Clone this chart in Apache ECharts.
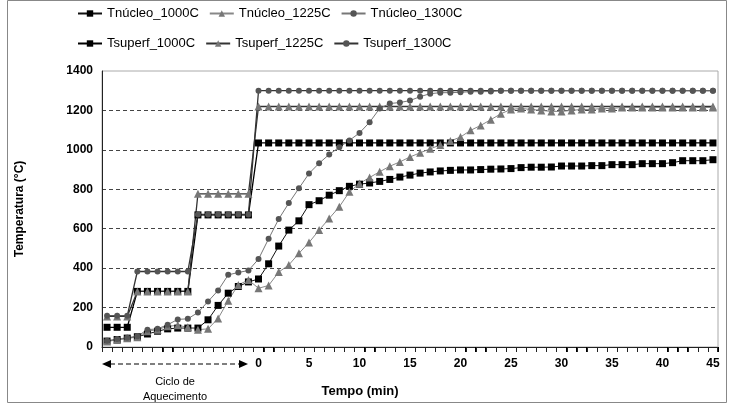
<!DOCTYPE html>
<html>
<head>
<meta charset="utf-8">
<script src="https://cdn.jsdelivr.net/npm/echarts@6/dist/echarts.min.js"></script>
<style>html,body{margin:0;padding:0;background:#fff;}#c{width:730px;height:410px;}</style>
</head>
<body>
<div id="c"></div>
<script>
// Categories: 15 heating-cycle steps followed by minutes 0..45
var heatSteps = ['H1','H2','H3','H4','H5','H6','H7','H8','H9','H10','H11','H12','H13','H14','H15'];
var minutes = ['0','1','2','3','4','5','6','7','8','9','10','11','12','13','14','15','16','17','18','19','20','21','22','23','24','25','26','27','28','29','30','31','32','33','34','35','36','37','38','39','40','41','42','43','44','45'];
var tickLabels = ['0','5','10','15','20','25','30','35','40','45'];
var yTicks = [0,200,400,600,800,1000,1200,1400];

// Heating cycle values
var coreHeat1000 = [30,38,45,52,66,80,92,96,96,96,138,211,273,307,330];
var coreHeat1225 = [28,36,44,50,80,88,105,110,100,88,92,145,235,315,340];
var coreHeat1300 = [32,40,47,55,88,92,113,140,143,175,231,287,366,378,388];
var surfHeat1000 = [100,100,100,282,282,282,282,282,282,670,670,670,670,670,670];
var surfHeat1225 = [155,155,155,282,282,282,282,282,282,777,777,777,777,777,777];
var surfHeat1300 = [158,158,158,383,383,383,383,383,383,672,672,672,672,672,672];

// Time 0..45 min values
var core1000 = [345,422,512,593,640,722,742,770,793,815,826,832,840,850,862,872,882,888,893,896,898,898,900,902,903,905,910,912,912,913,918,918,918,920,920,925,925,925,930,930,930,935,945,945,945,950];
var core1225 = [298,312,380,416,475,530,593,652,711,787,829,860,889,917,939,964,985,1005,1025,1045,1065,1099,1124,1153,1183,1205,1210,1205,1200,1195,1195,1200,1205,1205,1210,1210,1215,1215,1215,1215,1215,1215,1215,1215,1215,1215];
var core1300 = [446,549,649,730,805,880,932,977,1013,1048,1086,1140,1210,1235,1240,1250,1270,1285,1290,1290,1292,1295,1295,1296,1300,1300,1300,1300,1300,1300,1300,1300,1300,1300,1300,1300,1300,1300,1300,1300,1300,1300,1300,1300,1300,1300];
var surf1000 = [1035,1035,1035,1035,1035,1035,1035,1035,1035,1035,1035,1035,1035,1035,1035,1035,1035,1035,1035,1035,1035,1035,1035,1035,1035,1035,1035,1035,1035,1035,1035,1035,1035,1035,1035,1035,1035,1035,1035,1035,1035,1035,1035,1035,1035,1035];
var surf1225 = [1220,1220,1220,1220,1220,1220,1220,1220,1220,1220,1220,1220,1220,1220,1220,1220,1220,1220,1220,1220,1220,1220,1220,1220,1220,1220,1220,1220,1220,1220,1220,1220,1220,1220,1220,1220,1220,1220,1220,1220,1220,1220,1220,1220,1220,1220];
var surf1300 = [1300,1300,1300,1300,1300,1300,1300,1300,1300,1300,1300,1300,1300,1300,1300,1300,1300,1300,1300,1300,1300,1300,1300,1300,1300,1300,1300,1300,1300,1300,1300,1300,1300,1300,1300,1300,1300,1300,1300,1300,1300,1300,1300,1300,1300,1300];

var categories = heatSteps.concat(minutes);
var FONT = "'Liberation Sans', Arial, sans-serif";

function mk(name, data, symbol, size, markColor, lineColor, lw) {
  return {
    name: name, type: 'line', data: data,
    symbol: symbol, symbolSize: size, showSymbol: true, showAllSymbol: true,
    itemStyle: {color: markColor, borderWidth: 0},
    lineStyle: {color: lineColor, width: lw},
    emphasis: {disabled: true}
  };
}

// tick marks at category boundaries, positioned through the axis scale
function tickItem(params, api) {
  var idx = api.value(0);
  var p = api.coord([idx, 0]);
  var band = api.size([1, 0])[0];
  var xl = Math.round(p[0] - band / 2) + 0.5;
  var children = [{type: 'line', shape: {x1: xl, y1: p[1], x2: xl, y2: p[1] + 5}, style: {stroke: '#222', lineWidth: 1}}];
  if (idx === categories.length - 1) {
    var xr = Math.round(p[0] + band / 2) - 0.5;
    children.push({type: 'line', shape: {x1: xr, y1: p[1], x2: xr, y2: p[1] + 5}, style: {stroke: '#222', lineWidth: 1}});
  }
  return {type: 'group', children: children};
}

var chart = echarts.init(document.getElementById('c'), null, {renderer: 'canvas'});
var splitColors = yTicks.map(function (v) { return v === 1400 ? 'rgba(0,0,0,0)' : '#444'; });

chart.setOption({
  animation: false,
  backgroundColor: '#fff',
  textStyle: {fontFamily: FONT},
  grid: {left: 102, right: 12, top: 71, bottom: 63, show: true, borderColor: '#aaa', borderWidth: 1, backgroundColor: 'transparent'},
  legend: [
    {data: ['Tnúcleo_1000C','Tnúcleo_1225C','Tnúcleo_1300C'], top: 2, left: 72, itemWidth: 24, itemHeight: 8, itemGap: 10,
     textStyle: {fontFamily: FONT, fontSize: 13, color: '#000', width: 101}},
    {data: ['Tsuperf_1000C','Tsuperf_1225C','Tsuperf_1300C'], top: 32, left: 72, itemWidth: 24, itemHeight: 8, itemGap: 10,
     textStyle: {fontFamily: FONT, fontSize: 13, color: '#000', width: 101}}
  ],
  xAxis: {
    type: 'category', data: categories, boundaryGap: true,
    axisLine: {show: true, onZero: false, lineStyle: {color: '#222', width: 1}},
    axisTick: {show: true, inside: false, interval: 0, length: 5, lineStyle: {color: '#000', width: 1}},
    axisLabel: {
      interval: 0,
      formatter: function (val, idx) { return (idx >= heatSteps.length && tickLabels.indexOf(val) >= 0) ? val : ''; },
      margin: 11, fontFamily: FONT, fontSize: 12, fontWeight: 'bold', color: '#000'
    },
    splitLine: {show: false}
  },
  yAxis: {
    type: 'value', min: 0, max: 1400, interval: 200,
    name: 'Temperatura (°C)', nameLocation: 'middle', nameGap: 76,
    nameTextStyle: {fontFamily: FONT, fontSize: 12, fontWeight: 'bold', color: '#000'},
    axisLine: {show: true, lineStyle: {color: '#222', width: 1}},
    axisTick: {show: false},
    axisLabel: {margin: 9, fontFamily: FONT, fontSize: 12, fontWeight: 'bold', color: '#000',
      formatter: function (v) { return String(v); }},
    splitLine: {show: true, lineStyle: {type: [4, 3], color: splitColors, width: 1}}
  },
  series: [
    mk('Tsuperf_1000C', surfHeat1000.concat(surf1000), 'rect', 7, '#000', '#000', 1.3),
    mk('Tsuperf_1225C', surfHeat1225.concat(surf1225), 'triangle', 8, '#777', '#333', 1.3),
    mk('Tsuperf_1300C', surfHeat1300.concat(surf1300), 'circle', 6, '#555', '#333', 1.3),
    mk('Tnúcleo_1000C', coreHeat1000.concat(core1000), 'rect', 7, '#000', '#111', 1),
    mk('Tnúcleo_1225C', coreHeat1225.concat(core1225), 'triangle', 8, '#777', '#888', 1),
    mk('Tnúcleo_1300C', coreHeat1300.concat(core1300), 'circle', 6, '#555', '#777', 1),
    {
      name: 'ticks', type: 'custom', renderItem: tickItem, clip: false, silent: true,
      data: categories.map(function (c, i) { return [i, 0]; }),
      encode: {x: 0, y: 1}, z: 10, tooltip: {show: false}
    }
  ],
  graphic: [
    {type: 'rect', shape: {x: 7.5, y: 0.5, width: 719, height: 402}, style: {fill: null, stroke: '#888', lineWidth: 1}, silent: true, z: -10},
    {type: 'line', shape: {x1: 110, y1: 364, x2: 240, y2: 364}, style: {stroke: '#000', lineWidth: 1.2, lineDash: [5, 3]}, silent: true},
    {type: 'polygon', shape: {points: [[102, 364], [111, 360], [111, 368]]}, style: {fill: '#000'}, silent: true},
    {type: 'polygon', shape: {points: [[248, 364], [239, 360], [239, 368]]}, style: {fill: '#000'}, silent: true},
    {type: 'text', x: 175, y: 382, style: {text: 'Ciclo de', fontFamily: FONT, fontSize: 11, fill: '#000', align: 'center', verticalAlign: 'middle'}, silent: true},
    {type: 'text', x: 175, y: 397, style: {text: 'Aquecimento', fontFamily: FONT, fontSize: 11, fill: '#000', align: 'center', verticalAlign: 'middle'}, silent: true},
    {type: 'text', x: 360, y: 391, style: {text: 'Tempo (min)', fontFamily: FONT, fontSize: 13, fontWeight: 'bold', fill: '#000', align: 'center', verticalAlign: 'middle'}, silent: true}
  ]
});
</script>
</body>
</html>
